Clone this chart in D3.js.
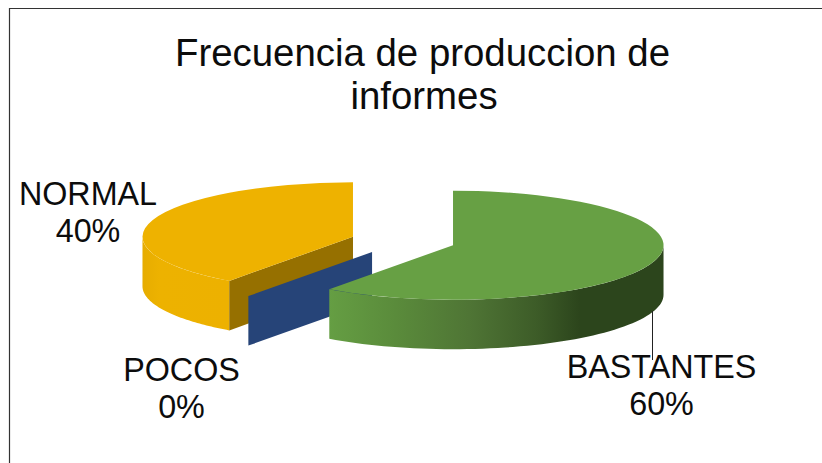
<!DOCTYPE html>
<html>
<head>
<meta charset="utf-8">
<script src="https://d3js.org/d3.v7.min.js"></script>
<style>
  html, body { margin: 0; padding: 0; background: #fff; overflow: hidden; }
  svg { display: block; }
  text { font-family: "Liberation Sans", Arial, sans-serif; fill: #0c0c0c; }
  .title { font-size: 38.4px; }
  .label { font-size: 32.3px; }
</style>
</head>
<body>
<div id="chart"></div>
<script>
// data
var categories = ["BASTANTES", "POCOS", "NORMAL"];
var values = [60, 0, 40];
var percentLabels = ["60%", "0%", "40%"];
var titleLines = ["Frecuencia de produccion de", "informes"];

var width = 822, height = 463;
var cx = 403, cy = 241;       // pie centre before explode
var rx = 210.5, ry = 54.5;    // ellipse of the tilted pie
var depth = 49.5;             // thickness
var explode = 52.6;

var topColor = ["#67a044", "#264478", "#eeb200"];
var faceColor = ["#67a044", "#264478", "#967000"];

var svg = d3.select("#chart").append("svg")
    .attr("width", width)
    .attr("height", height);

// frame, only top and left show in the picture
svg.append("path")
    .attr("d", "M9.5," + height + "V8.5H" + width)
    .attr("fill", "none")
    .attr("stroke", "#333")
    .attr("stroke-width", 1.2);

var defs = svg.append("defs");

// x1, x2 are local to the slice group, so relative to the slice apex
function addGradient(id, x1, x2, stops) {
  var g = defs.append("linearGradient")
      .attr("id", id)
      .attr("gradientUnits", "userSpaceOnUse")
      .attr("x1", x1).attr("x2", x2)
      .attr("y1", 0).attr("y2", 0);
  stops.forEach(function(s) {
    g.append("stop").attr("offset", s[0]).attr("stop-color", s[1]);
  });
}

addGradient("wall0", -124, 210, [[0, "#659e43"], [0.2, "#5a8b3b"], [0.42, "#4f7535"], [0.62, "#3d5c28"], [0.75, "#2c451c"], [1, "#2c451c"]]);
addGradient("wall2", -211, -124, [[0, "#e6ac00"], [0.2, "#edb200"], [1, "#edb100"]]);

var pie = d3.pie().sort(null).value(function(d) { return d; });
var slices = pie(values);

var arc = d3.arc().innerRadius(0).outerRadius(rx);
var line = d3.line();

// rim point on the ellipse, angle clockwise from the top
function rim(a) {
  return [Math.sin(a) * rx, -Math.cos(a) * ry];
}

// draw left slice first, then the thin one, green goes on top
var order = [2, 1, 0];

order.forEach(function(i) {
  var d = slices[i];
  var mid = (d.startAngle + d.endAngle) / 2;
  var g = svg.append("g")
      .attr("transform", "translate(" + (cx + Math.sin(mid) * explode) + "," + (cy - Math.cos(mid) * explode * ry / rx) + ")");

  // outer wall, only the front half of the ellipse shows
  var a0 = Math.max(d.startAngle, Math.PI / 2);
  var a1 = Math.min(d.endAngle, Math.PI * 1.5);
  if (a1 > a0) {
    var upper = d3.range(0, 61).map(function(k) { return rim(a0 + (a1 - a0) * k / 60); });
    var lower = upper.slice().reverse().map(function(p) { return [p[0], p[1] + depth]; });
    g.append("path")
        .attr("d", line(upper.concat(lower)) + "Z")
        .attr("fill", "url(#wall" + i + ")");
  }

  // cut face at the start angle, visible on the back half left side
  if (d.startAngle > Math.PI && d.startAngle < Math.PI * 2) {
    var p = rim(d.startAngle);
    g.append("path")
        .attr("d", line([[0, 0], p, [p[0], p[1] + depth], [0, depth]]) + "Z")
        .attr("fill", faceColor[i]);
  }

  // top of the slice
  if (d.endAngle > d.startAngle) {
    g.append("path")
        .attr("transform", "scale(1," + (ry / rx) + ")")
        .attr("d", arc(d))
        .attr("fill", topColor[i]);
  }
});

// leader line of BASTANTES
svg.append("line")
    .attr("x1", 652.5).attr("x2", 652.5)
    .attr("y1", 311).attr("y2", 360)
    .attr("stroke", "#222")
    .attr("stroke-width", 1);

// title
svg.selectAll(".title")
    .data(titleLines)
  .enter().append("text")
    .attr("class", "title")
    .attr("x", function(d, i) { return i == 0 ? 422.5 : 424; })
    .attr("y", function(d, i) { return 66 + i * 43; })
    .attr("text-anchor", "middle")
    .text(function(d) { return d; });

// data labels
var labelPos = [[661.5, 378], [181.5, 381], [88, 205]];

categories.forEach(function(c, i) {
  var t = svg.append("text")
      .attr("class", "label")
      .attr("text-anchor", "middle");
  t.append("tspan")
      .attr("x", labelPos[i][0])
      .attr("y", labelPos[i][1])
      .text(c);
  t.append("tspan")
      .attr("x", labelPos[i][0])
      .attr("y", labelPos[i][1] + 37)
      .text(percentLabels[i]);
});
</script>
</body>
</html>
